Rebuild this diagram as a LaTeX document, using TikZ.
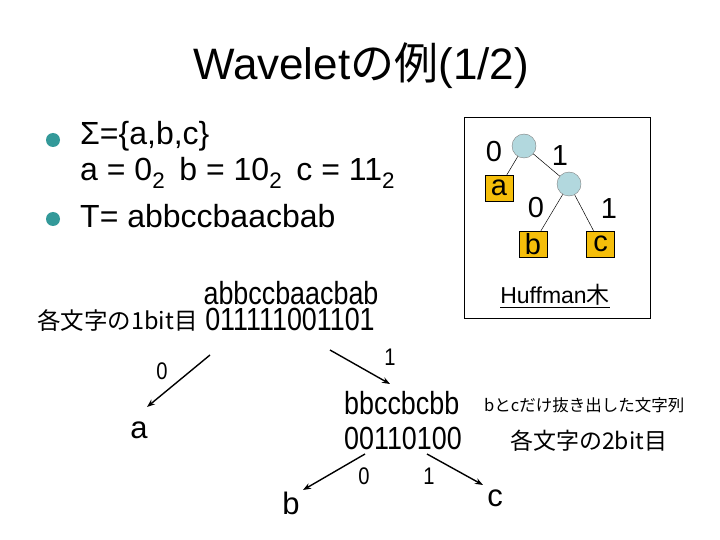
\documentclass[tikz,border=0pt]{standalone}
\usepackage{fontspec}
\setmainfont{Liberation Sans}
\newfontfamily\jp{Noto Sans CJK JP}
\newfontfamily\narrowfont[FakeStretch=0.84]{Liberation Sans}
\usetikzlibrary{arrows.meta}
\definecolor{bullet}{RGB}{51,153,153}
\definecolor{nodeblue}{RGB}{178,216,222}
\definecolor{leaforange}{RGB}{245,190,10}
\tikzset{
  fs/.style={font=\fontsize{#1}{#1}\selectfont},
  nfs/.style={font=\narrowfont\fontsize{#1}{#1}\selectfont},
  jfs/.style={font=\jp\fontsize{#1}{#1}\selectfont},
  txt/.style={inner sep=0pt, anchor=base},
  bul/.style={circle, fill=bullet, inner sep=0pt, minimum size=14pt},
  inode/.style={circle, draw=gray, fill=nodeblue, inner sep=0pt, minimum size=24pt},
  leaf/.style={draw=black, fill=leaforange, inner sep=0pt, minimum width=28pt, minimum height=26pt, fs=29},
  arr/.style={line width=1.4pt, -{Stealth[length=8pt,width=6pt]}},
  edge/.style={line width=0.5pt}
}
\begin{document}
\begin{tikzpicture}[x=1pt,y=-1pt]
\useasboundingbox[fill=white] (0,0) rectangle (720,540);
% title
\node[txt, fs=44] (title) at (361,80) {Wavelet{\jp の例}(1/2)};
% bullets
\node[bul] (b1) at (53,140) {};
\node[txt, anchor=base west, fs=32] (l1) at (80,145) {Σ=\{a,b,c\}};
\node[txt, anchor=base west, fs=32] (l2) at (80,181) {a = 0\textsubscript{2}\, b = 10\textsubscript{2}\, c = 11\textsubscript{2}};
\node[bul] (b2) at (53,219) {};
\node[txt, anchor=base west, fs=32] (l3) at (80,227) {T= abbccbaacbab};
% Huffman tree box
\node[draw=black, line width=0.6pt, minimum width=186pt, minimum height=201pt, inner sep=0pt] (frame) at (557.5,217.5) {};
\node[inode] (r) at (524,146) {};
\node[inode] (n2) at (569,184) {};
\node[leaf] (la) at (499,188) {a};
\node[leaf] (lb) at (533,244) {b};
\node[leaf] (lc) at (600.5,244) {c};
\draw[edge] (r) -- (la);
\draw[edge] (r) -- (n2);
\draw[edge] (n2) -- (lb);
\draw[edge] (n2) -- (lc);
\node[fs=29, inner sep=0pt] (t0) at (494,152) {0};
\node[fs=29, inner sep=0pt] (t1) at (560,156) {1};
\node[fs=29, inner sep=0pt] (t2) at (536,208) {0};
\node[fs=29, inner sep=0pt] (t3) at (609,209) {1};
\node[txt, fs=23] (huff) at (555,303) {Huffman{\jp 木}};
\draw[line width=0.8pt] ([yshift=-4pt]huff.base west) -- ([yshift=-4pt]huff.base east);
% level 1
\node[txt, nfs=32] (s1) at (291,304) {abbccbaacbab};
\node[txt, nfs=32] (bits1) at (290,330) {011111001101};
\node[txt, anchor=base east, jfs=23.5] (lab1) at (198,329) {各文字の1bit目};
\coordinate (s0) at (210,355);
\coordinate (e0) at (147,407);
\coordinate (s1a) at (330,350);
\coordinate (e1) at (390,384);
\draw[arr] (s0) -- (e0);
\draw[arr] (s1a) -- (e1);
\node[nfs=24, inner sep=0pt] (z0) at (162,371) {0};
\node[nfs=24, inner sep=0pt] (z1) at (390,357) {1};
\node[fs=31, inner sep=0pt] (a) at (139,430) {a};
% level 2
\node[txt, anchor=base west, nfs=32] (s2) at (344,414) {bbccbcbb};
\node[txt, anchor=base west, nfs=32] (bits2) at (344,449) {00110100};
\node[txt, anchor=base west, jfs=16.5] (note) at (484,411) {bとcだけ抜き出した文字列};
\node[txt, anchor=base west, jfs=23] (lab2) at (510,449) {各文字の2bit目};
\coordinate (s2b) at (365,454);
\coordinate (eb) at (303,490);
\coordinate (s2c) at (427,454);
\coordinate (ec) at (483,485);
\draw[arr] (s2b) -- (eb);
\draw[arr] (s2c) -- (ec);
\node[nfs=24, inner sep=0pt] (z2) at (364,476) {0};
\node[nfs=24, inner sep=0pt] (z3) at (429,476) {1};
\node[fs=31, inner sep=0pt] (b) at (291,503) {b};
\node[fs=31, inner sep=0pt] (c) at (495,498) {c};
\end{tikzpicture}
\end{document}
